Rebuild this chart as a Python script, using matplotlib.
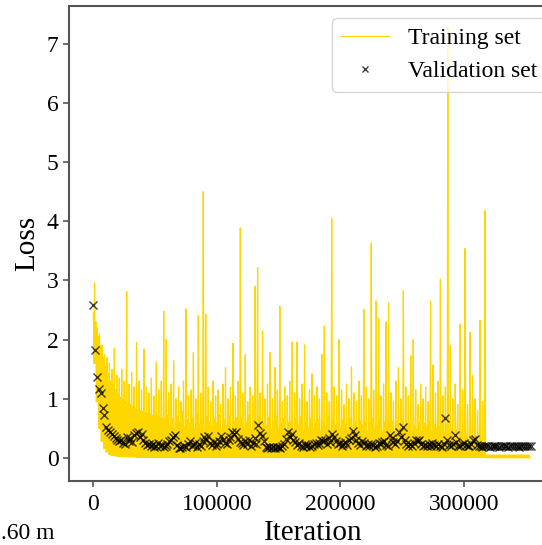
import numpy as np
import matplotlib
matplotlib.use("Agg")
import matplotlib.pyplot as plt

plt.rcParams['font.family'] = ['Liberation Serif', 'DejaVu Serif']

# ---------------- data ----------------
# Training loss, read per 2000-iteration bin: solid band top, floor, and thin peaks
train_band = [
    2.45, 2.3, 2.05, 1.9, 1.7, 1.55, 1.42, 1.3, 1.24, 1.16,
    1.08, 1.02, 0.98, 0.95, 0.92, 0.9, 0.87, 0.84, 0.82, 0.8,
    0.78, 0.76, 0.75, 0.73, 0.72, 0.7, 0.7, 0.68, 0.67, 0.66,
    0.72, 0.55, 0.66, 0.5, 0.7, 0.6, 0.78, 0.52, 0.65, 0.58,
    0.68, 0.5, 0.74, 0.56, 0.62, 0.48, 0.7, 0.6, 0.54, 0.66,
    0.58, 0.72, 0.5, 0.64, 0.55, 0.7, 0.47, 0.62, 0.68, 0.52,
    0.66, 0.5, 0.6, 0.72, 0.48, 0.63, 0.55, 0.7, 0.5, 0.6,
    0.55, 0.68, 0.47, 0.62, 0.7, 0.5, 0.58, 0.66, 0.45, 0.6,
    0.62, 0.48, 0.66, 0.55, 0.7, 0.46, 0.6, 0.52, 0.67, 0.5,
    0.58, 0.65, 0.45, 0.6, 0.52, 0.7, 0.48, 0.63, 0.55, 0.6,
    0.5, 0.64, 0.56, 0.45, 0.66, 0.52, 0.6, 0.47, 0.62, 0.55,
    0.6, 0.46, 0.58, 0.66, 0.5, 0.55, 0.62, 0.44, 0.6, 0.52,
    0.56, 0.62, 0.45, 0.58, 0.5, 0.64, 0.48, 0.55, 0.6, 0.46,
    0.55, 0.48, 0.6, 0.44, 0.58, 0.52, 0.62, 0.45, 0.56, 0.5,
    0.52, 0.58, 0.42, 0.55, 0.4, 0.5, 0.3, 0.48, 0.12, 0.42,
    0.1, 0.38, 0.08, 0.35, 0.06, 0.3, 0.1, 0.3, 0.05, 0.05,
    0.05, 0.05, 0.05, 0.05, 0.05, 0.05, 0.05, 0.05, 0.05, 0.05,
    0.05, 0.05, 0.05, 0.05, 0.05, 0.05, 0.05,
]
train_peak = [
    2.96, 2.2, 2.1, 1.9, 1.75, 1.7, 1.6, 1.5, 1.85, 1.4,
    1.35, 1.5, 1.3, 2.81, 1.25, 1.45, 1.2, 1.95, 1.3, 1.15,
    1.84, 1.2, 1.1, 1.35, 1.05, 1.62, 1.15, 1.3, 2.48, 2.0,
    1.1, 1.25, 1.64, 1.0, 1.2, 0.95, 1.3, 2.52, 1.05, 1.15,
    1.78, 1.0, 2.41, 1.1, 4.5, 2.43, 1.2, 0.95, 1.3, 1.05,
    1.15, 0.9, 1.25, 1.53, 1.0, 1.2, 1.94, 1.05, 1.3, 3.89,
    1.1, 1.75, 0.95, 1.2, 1.05, 2.9, 3.22, 1.1, 2.15, 1.0,
    1.25, 1.78, 1.0, 1.53, 1.15, 2.56, 0.95, 1.2, 1.05, 1.3,
    1.96, 1.1, 1.96, 1.0, 1.25, 1.91, 0.95, 1.15, 1.42, 1.05,
    1.2, 1.0, 1.75, 2.23, 1.1, 0.95, 4.05, 1.2, 1.05, 2.0,
    1.15, 0.9, 1.25, 1.0, 1.54, 1.1, 0.95, 1.3, 1.05, 2.51,
    1.2, 1.0, 3.63, 1.15, 2.65, 2.36, 1.05, 1.25, 2.3, 2.62,
    1.1, 0.95, 1.3, 1.53, 1.0, 2.83, 1.2, 1.05, 1.73, 2.0,
    1.15, 0.9, 1.25, 1.0, 1.2, 0.95, 2.65, 1.57, 1.1, 1.3,
    3.02, 1.05, 1.2, 7.28, 1.9, 1.0, 1.25, 0.9, 2.26, 1.15,
    3.54, 0.9, 2.12, 1.39, 1.0, 0.8, 2.33, 0.95, 4.18, 0.05,
    0.05, 0.05, 0.05, 0.05, 0.05, 0.05, 0.05, 0.05, 0.05, 0.05,
    0.05, 0.05, 0.05, 0.05, 0.05, 0.05, 0.05,
]
train_floor = [
    1.6, 0.95, 0.5, 0.28, 0.16, 0.1, 0.06, 0.045, 0.035, 0.03,
    0.025, 0.02, 0.02, 0.02, 0.015, 0.015, 0.015, 0.01, 0.01, 0.01,
    0.01, 0.01, 0.01, 0.01, 0.01, 0.01, 0.01, 0.01, 0.01, 0.01,
    0.01, 0.01, 0.01, 0.01, 0.01, 0.01, 0.01, 0.01, 0.01, 0.01,
    0.01, 0.01, 0.01, 0.01, 0.01, 0.01, 0.01, 0.01, 0.01, 0.01,
    0.01, 0.01, 0.01, 0.01, 0.01, 0.01, 0.01, 0.01, 0.01, 0.01,
    0.01, 0.01, 0.01, 0.01, 0.01, 0.01, 0.01, 0.01, 0.01, 0.01,
    0.01, 0.01, 0.01, 0.01, 0.01, 0.01, 0.01, 0.01, 0.01, 0.01,
    0.01, 0.01, 0.01, 0.01, 0.01, 0.01, 0.01, 0.01, 0.01, 0.01,
    0.01, 0.01, 0.01, 0.01, 0.01, 0.01, 0.01, 0.01, 0.01, 0.01,
    0.01, 0.01, 0.01, 0.01, 0.01, 0.01, 0.01, 0.01, 0.01, 0.01,
    0.01, 0.01, 0.01, 0.01, 0.01, 0.01, 0.01, 0.01, 0.01, 0.01,
    0.01, 0.01, 0.01, 0.01, 0.01, 0.01, 0.01, 0.01, 0.01, 0.01,
    0.01, 0.01, 0.01, 0.01, 0.01, 0.01, 0.01, 0.01, 0.01, 0.01,
    0.01, 0.01, 0.01, 0.01, 0.01, 0.01, 0.01, 0.01, 0.01, 0.01,
    0.01, 0.01, 0.01, 0.01, 0.01, 0.01, 0.01, 0.01, 0.01, 0.0,
    0.0, 0.0, 0.0, 0.0, 0.0, 0.0, 0.0, 0.0, 0.0, 0.0,
    0.0, 0.0, 0.0, 0.0, 0.0, 0.0, 0.0,
]
train_bin_step = 2000

# Validation loss, every 1500 iterations
val_step = 1500
val_loss = [
    2.59, 1.82, 1.37, 1.16, 1.10, 0.85, 0.72, 0.52, 0.47, 0.43, 0.40, 0.37, 0.34, 0.30, 0.28, 0.31, 0.26, 0.24, 0.35, 0.29,
    0.33, 0.27, 0.38, 0.42, 0.44, 0.36, 0.40, 0.30, 0.26, 0.22, 0.24, 0.20, 0.23, 0.19, 0.21, 0.25, 0.20, 0.22, 0.18, 0.21,
    0.24, 0.28, 0.31, 0.35, 0.38, 0.22, 0.17, 0.16, 0.19, 0.21, 0.18, 0.24, 0.29, 0.20, 0.22, 0.26, 0.19, 0.23, 0.21, 0.28,
    0.36, 0.30, 0.37, 0.25, 0.22, 0.27, 0.20, 0.24, 0.29, 0.37, 0.31, 0.26, 0.23, 0.30, 0.35, 0.44, 0.41, 0.44, 0.32, 0.27,
    0.25, 0.22, 0.29, 0.24, 0.31, 0.21, 0.26, 0.33, 0.23, 0.56, 0.42, 0.37, 0.28, 0.19, 0.17, 0.18, 0.16, 0.19, 0.17, 0.18,
    0.18, 0.17, 0.20, 0.24, 0.32, 0.44, 0.36, 0.41, 0.30, 0.27, 0.22, 0.25, 0.21, 0.19, 0.23, 0.20, 0.22, 0.18, 0.21, 0.24,
    0.26, 0.22, 0.25, 0.31, 0.28, 0.30, 0.24, 0.33, 0.27, 0.40, 0.36, 0.29, 0.23, 0.26, 0.21, 0.24, 0.27, 0.22, 0.30, 0.33,
    0.46, 0.38, 0.31, 0.25, 0.22, 0.29, 0.26, 0.21, 0.23, 0.20, 0.24, 0.22, 0.19, 0.21, 0.25, 0.23, 0.27, 0.29, 0.22, 0.20,
    0.39, 0.33, 0.27, 0.24, 0.29, 0.44, 0.36, 0.52, 0.30, 0.24, 0.21, 0.23, 0.20, 0.26, 0.31, 0.28, 0.31, 0.24, 0.21, 0.22,
    0.20, 0.23, 0.21, 0.25, 0.22, 0.20, 0.24, 0.21, 0.19, 0.23, 0.67, 0.31, 0.22, 0.20, 0.24, 0.38, 0.27, 0.21, 0.20, 0.23,
    0.26, 0.22, 0.20, 0.21, 0.24, 0.30, 0.32, 0.22, 0.20, 0.21, 0.19, 0.20, 0.21, 0.20, 0.19, 0.20, 0.21, 0.20, 0.20, 0.19,
    0.20, 0.20, 0.21, 0.20, 0.19, 0.20, 0.20, 0.21, 0.20, 0.20, 0.19, 0.20, 0.20, 0.21, 0.20, 0.20, 0.20,
]

x_ticks = [0, 100000, 200000, 300000]
y_ticks = [0, 1, 2, 3, 4, 5, 6, 7]
x_label = "Iteration"
y_label = "Loss"
legend_labels = ["Training set", "Validation set"]
corner_note = ".60 m"

# ---------------- build series ----------------
b = np.arange(len(train_band)) * train_bin_step
train_iter = np.column_stack([b, b + 500, b + 1000, b + 1500]).ravel()
train_loss = np.column_stack([train_band, train_floor, train_peak, train_floor]).ravel()
val_iter = np.arange(len(val_loss)) * val_step

# ---------------- plot ----------------
W, H = 542, 545
fig = plt.figure(figsize=(W / 100, H / 100), dpi=100)
ax = fig.add_axes([69 / W, 64 / H, 489 / W, 475 / H])

ax.plot(train_iter, train_loss, color='#FFD700', lw=0.9, label=legend_labels[0], zorder=2)
ax.plot(val_iter, val_loss, ls='none', marker='x', ms=6, mew=1.0,
        color='black', alpha=0.75, label=legend_labels[1], zorder=3)

ax.set_xlim(-19700, 376200)
ax.set_ylim(-0.39, 7.64)
ax.set_xticks(x_ticks)
ax.set_yticks(y_ticks)
ax.ticklabel_format(axis='x', style='plain', useOffset=False)

spine_col = '#555555'
for s in ax.spines.values():
    s.set_color(spine_col)
    s.set_linewidth(1.5)
ax.tick_params(axis='both', direction='out', length=4, width=1.2,
               color=spine_col, labelcolor='black', labelsize=17)
ax.tick_params(axis='x', pad=5)

ax.set_xlabel(x_label, fontsize=21, labelpad=4)
ax.set_ylabel(y_label, fontsize=21, labelpad=5)

leg = ax.legend(loc='upper right', fontsize=17, markerscale=0.75)

fig.text(1 / W, 1 / H, corner_note, fontsize=17, ha='left', va='bottom')

fig.savefig("out.png", dpi=100)
